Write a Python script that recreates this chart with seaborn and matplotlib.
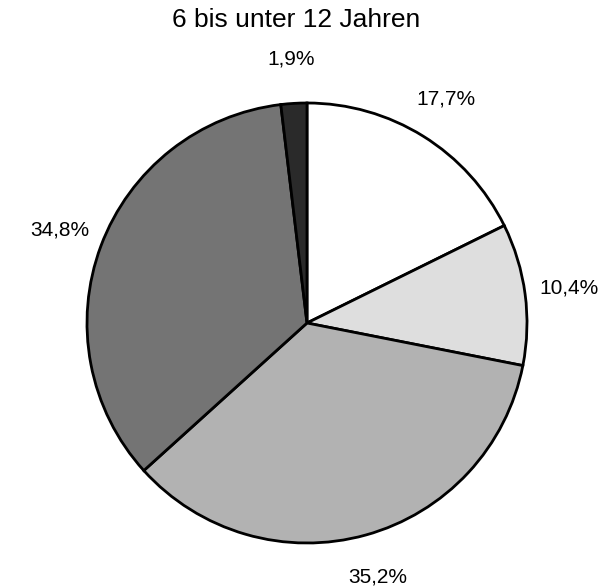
import matplotlib
matplotlib.use("Agg")
import matplotlib.pyplot as plt
import seaborn as sns

# data (clockwise from 12 o'clock)
shares = [17.7, 10.4, 35.2, 34.8, 1.9]
labels = ["17,7%", "10,4%", "35,2%", "34,8%", "1,9%"]
colors = ["#ffffff", "#dedede", "#b2b2b2", "#747474", "#2a2a2a"]
title = "6 bis unter 12 Jahren"

sns.set_style("white")
plt.rcParams["font.family"] = ["Liberation Sans", "DejaVu Sans"]

fig = plt.figure(figsize=(6.16, 5.87), dpi=100)
ax = fig.add_axes([32 / 616, 0, 550 / 616, 539 / 587])

wedges, texts = ax.pie(
    shares,
    labels=labels,
    colors=colors,
    startangle=90,
    counterclock=False,
    labeldistance=1.2,
    wedgeprops=dict(edgecolor="black", linewidth=2),
    textprops=dict(fontsize=15, color="black"),
)
for t in texts:
    t.set_horizontalalignment("center")
    t.set_verticalalignment("center")

ax.set_xlim(-1.25, 1.25)
ax.set_ylim(-1.2, 1.25)
ax.set_aspect("equal")
ax.axis("off")

fig.text(296 / 616, 1 - 20 / 587, title, ha="center", va="center",
         fontsize=19, color="black")

fig.savefig("out.png", dpi=100)
